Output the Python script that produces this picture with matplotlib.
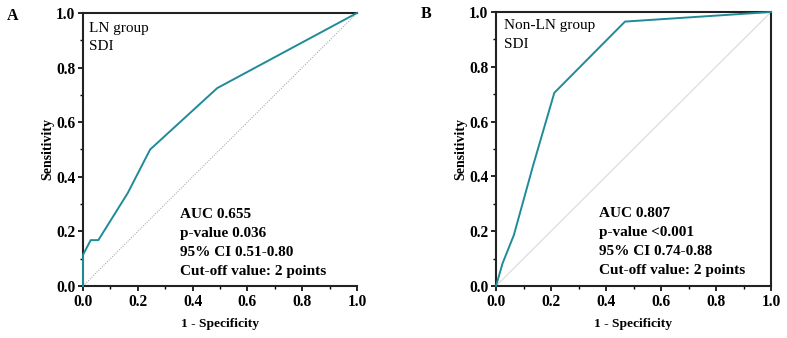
import matplotlib
matplotlib.use("Agg")
import matplotlib.pyplot as plt
from matplotlib.ticker import MultipleLocator

plt.rcParams['font.family'] = ['Liberation Serif', 'DejaVu Serif']

# Data
fpr_a = [0.0, 0.0, 0.028, 0.056, 0.163, 0.245, 0.49, 1.0]
tpr_a = [0.0, 0.114, 0.168, 0.168, 0.34, 0.50, 0.725, 1.0]
fpr_b = [0.0, 0.024, 0.065, 0.135, 0.212, 0.469, 1.0]
tpr_b = [0.0, 0.083, 0.186, 0.44, 0.705, 0.965, 1.0]

group_a = ["LN group", "SDI"]
group_b = ["Non-LN group", "SDI"]
stats_a = ["AUC 0.655", "p-value 0.036", "95% CI 0.51-0.80", "Cut-off value: 2 points"]
stats_b = ["AUC 0.807", "p-value <0.001", "95% CI 0.74-0.88", "Cut-off value: 2 points"]
ticks = [0.0, 0.2, 0.4, 0.6, 0.8, 1.0]
tick_labels = ["0.0", "0.2", "0.4", "0.6", "0.8", "1.0"]

W, H = 787, 338
fig = plt.figure(figsize=(W / 100, H / 100), dpi=100)

line_color = "#1f8b97"

def make_ax(l, r, t, b):
    return fig.add_axes([l / W, 1 - b / H, (r - l) / W, (b - t) / H])

axA = make_ax(83, 357, 13, 286)
axB = make_ax(496, 771, 12, 286)

def style(ax, right_spine=True):
    ax.set_xlim(0, 1)
    ax.set_ylim(0, 1)
    for s in ax.spines.values():
        s.set_linewidth(1.5)
        s.set_color("#222222")
    ax.spines['right'].set_visible(right_spine)
    ax.set_xticks(ticks)
    ax.set_xticklabels(tick_labels)
    ax.set_yticks(ticks)
    ax.set_yticklabels(tick_labels)
    ax.xaxis.set_minor_locator(MultipleLocator(0.1))
    ax.yaxis.set_minor_locator(MultipleLocator(0.1))
    ax.tick_params(which='major', direction='out', length=3.5, width=1.2, labelsize=11.2, pad=2)
    ax.tick_params(which='minor', direction='out', length=2, width=1.0)
    for lab in ax.get_xticklabels() + ax.get_yticklabels():
        lab.set_fontweight('bold')
    ax.set_xlabel("1 - Specificity", fontsize=9.7, fontweight='bold', labelpad=6)
    ax.set_ylabel("Sensitivity", fontsize=10, fontweight='bold', labelpad=1)

style(axA, right_spine=False)
style(axB, right_spine=True)

axA.plot([0, 1], [0, 1], linestyle=(0, (1, 1.5)), color="#999999", linewidth=0.7, zorder=1)
axB.plot([0, 1], [0, 1], linestyle='-', color="#dddddd", linewidth=0.9, zorder=1)

axA.plot(fpr_a, tpr_a, color=line_color, linewidth=1.4, clip_on=False, zorder=3)
axB.plot(fpr_b, tpr_b, color=line_color, linewidth=1.4, clip_on=False, zorder=3)

def annotate(ax, group, gx, gys, stats, sx, sys_):
    for txt, y in zip(group, gys):
        ax.text(gx, y, txt, transform=ax.transAxes, fontsize=11, va='baseline', ha='left')
    for txt, y in zip(stats, sys_):
        ax.text(sx, y, txt, transform=ax.transAxes, fontsize=11, fontweight='bold',
                va='baseline', ha='left')

annotate(axA, group_a, 0.022, [0.931, 0.864], stats_a, 0.354, [0.249, 0.181, 0.110, 0.040])
annotate(axB, group_b, 0.029, [0.938, 0.869], stats_b, 0.376, [0.252, 0.184, 0.113, 0.043])

fig.text(13 / W, 1 - 16 / H, "A", fontsize=11.5, fontweight='bold', ha='center', va='center')
fig.text(426 / W, 1 - 14 / H, "B", fontsize=11.5, fontweight='bold', ha='center', va='center')

fig.savefig("out.png", dpi=100)
